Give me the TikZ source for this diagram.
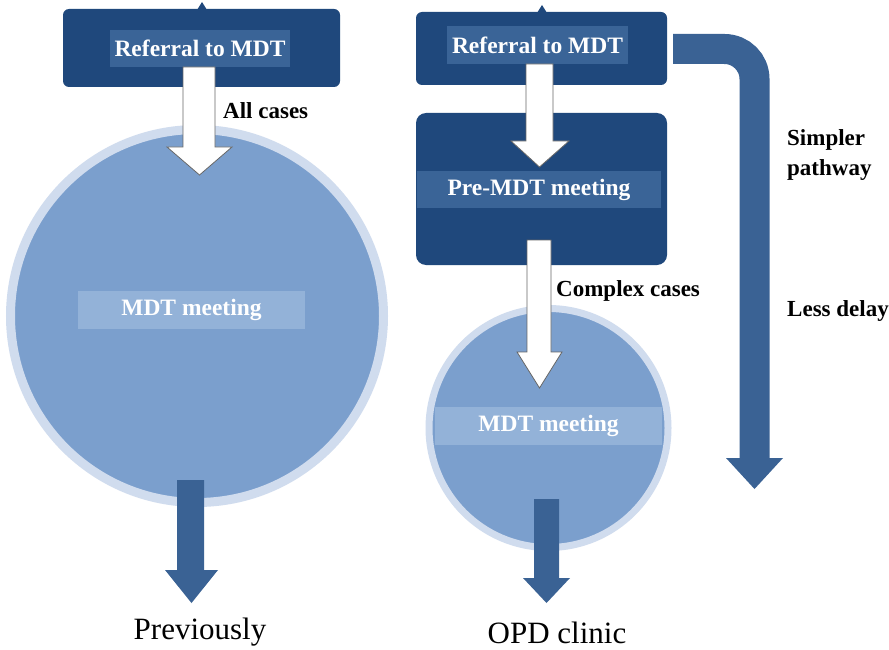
\documentclass[tikz,border=0pt]{standalone}
\usepackage{fontspec}
\setmainfont{Liberation Serif}
\definecolor{boxdark}{HTML}{1F487C}
\definecolor{boxlab}{HTML}{3A6497}
\definecolor{arrdark}{HTML}{3A6294}
\definecolor{circfill}{HTML}{7B9FCD}
\definecolor{circring}{HTML}{D0DCEE}
\definecolor{circlab}{HTML}{93B2D8}
\begin{document}
\begin{tikzpicture}[x=1pt,y=-1pt,
  panel/.style={fill=boxdark, draw=none, rounded corners=6pt, inner sep=0pt, outer sep=0pt},
  boxlabel/.style={fill=boxlab, draw=none, inner sep=0pt, text=white,
    font=\bfseries\fontsize{23.5}{27}\selectfont},
  meet/.style={circle, fill=circfill, draw=circring, inner sep=0pt},
  meetlabel/.style={fill=circlab, draw=none, inner sep=0pt, text=white,
    font=\bfseries\fontsize{23.5}{27}\selectfont},
  whitearrow/.style={fill=white, draw=gray!80!black, line width=0.8pt, line join=miter},
  darkarrow/.style={fill=arrdark, draw=none},
  note/.style={inner sep=0pt, text=black, font=\bfseries\fontsize{23}{30}\selectfont},
  caption/.style={inner sep=0pt, text=black, font=\fontsize{31}{36}\selectfont}]
\useasboundingbox (0,0) rectangle (889,650);
\fill[white] (0,0) rectangle (889,650);

% ---------- left column ----------
\node[meet, line width=9pt, minimum size=373pt] (mdtL) at (197,316) {};
\node[meetlabel, minimum width=227pt, minimum height=38pt] (mdtLlab) at (191.5,310) {MDT meeting};

\fill[boxdark] (197,10) -- (202,2) -- (207,10) -- cycle;
\node[panel, minimum width=277pt, minimum height=78pt] (refL) at (201.5,48) {};
\node[boxlabel, minimum width=180pt, minimum height=37pt] (refLlab) at (200,48.5) {Referral to MDT};

\coordinate (wLtip) at (199.5,175);
\draw[whitearrow] (183,67) -- (183,147) -- (167,147) -- (wLtip) -- (232,147) -- (215,147) -- (215,67) -- cycle;
\node[note, anchor=west] (allcases) at (223,111) {All cases};

\coordinate (dLtip) at (191.5,603);
\fill[darkarrow] (177,480) -- (177,570) -- (165,570) -- (dLtip) -- (218,570) -- (204,570) -- (204,480) -- cycle;
\node[caption] (prev) at (200,632) {Previously};

% ---------- right column ----------
\node[meet, line width=7pt, minimum size=239pt] (mdtR) at (548.5,428) {};
\node[meetlabel, minimum width=227pt, minimum height=38pt] (mdtRlab) at (548.5,426) {MDT meeting};

\fill[boxdark] (537,13) -- (542,5) -- (547,13) -- cycle;
\node[panel, minimum width=251pt, minimum height=73pt] (refR) at (541.5,48.5) {};
\node[boxlabel, minimum width=181pt, minimum height=38pt] (refRlab) at (537.5,45) {Referral to MDT};

\node[panel, rounded corners=10pt, minimum width=251pt, minimum height=152pt] (pre) at (541.5,189) {};
\node[boxlabel, minimum width=244pt, minimum height=37pt] (prelab) at (539,189.5) {Pre-MDT meeting};

\coordinate (w1tip) at (539.5,167);
\draw[whitearrow] (526,64) -- (526,141) -- (511,141) -- (w1tip) -- (569,141) -- (553,141) -- (553,64) -- cycle;

\coordinate (w2tip) at (539.5,388);
\draw[whitearrow] (527,240) -- (527,352) -- (517,352) -- (w2tip) -- (562,352) -- (551,352) -- (551,240) -- cycle;
\node[note, anchor=west] (complex) at (556,291) {Complex cases};

\coordinate (dRtip) at (546.5,603);
\fill[darkarrow] (534,499) -- (534,578) -- (523,578) -- (dRtip) -- (570,578) -- (559,578) -- (559,499) -- cycle;
\node[caption] (opd) at (557,633) {OPD clinic};

% ---------- bypass arrow ----------
\coordinate (bstart) at (673,49);
\coordinate (bcorner) at (754.5,49);
\coordinate (bend) at (754.5,458.5);
\draw[arrdark, line width=30pt, rounded corners=30pt] (bstart) -- (bcorner) -- (bend);
\coordinate (btip) at (754.5,489);
\fill[darkarrow] (726,458) -- (btip) -- (783,458) -- cycle;

\node[note, anchor=north west, align=left] (simpler) at (787,129) {Simpler\\pathway};
\node[note, anchor=west] (less) at (787,311) {Less delay};
\end{tikzpicture}
\end{document}
